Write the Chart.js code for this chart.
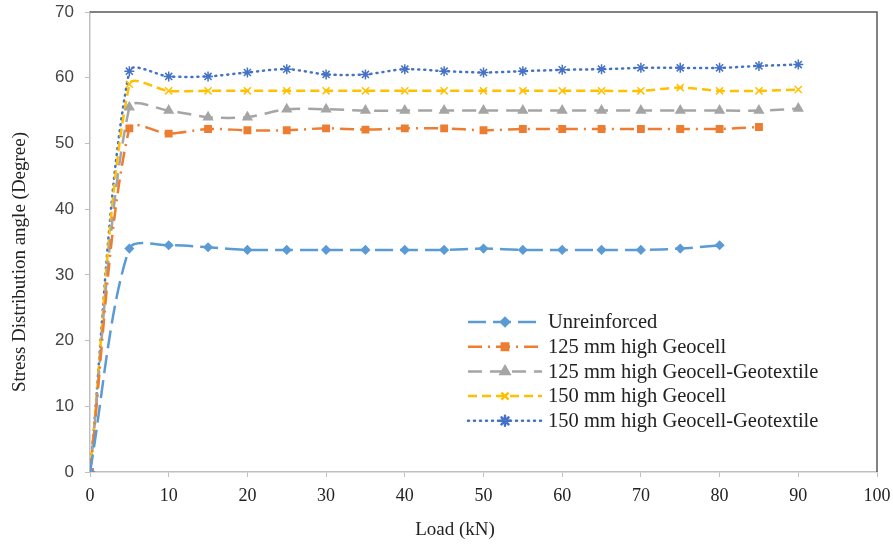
<!DOCTYPE html>
<html>
<head>
<meta charset="utf-8">
<script src="https://cdn.jsdelivr.net/npm/chart.js@4/dist/chart.umd.min.js"></script>
<style>
  body { margin: 0; background: #fff; }
  #wrap { width: 893px; height: 546px; }
</style>
</head>
<body>
<div id="wrap"><canvas id="chart"></canvas></div>
<script>
const LOADS = [0, 5, 10, 15, 20, 25, 30, 35, 40, 45, 50, 55, 60, 65, 70, 75, 80, 85, 90];
const X_TICKS = [0, 10, 20, 30, 40, 50, 60, 70, 80, 90, 100];

const UNREINFORCED = [0, 34, 34.5, 34.2, 33.8, 33.8, 33.8, 33.8, 33.8, 33.8, 34, 33.8, 33.8, 33.8, 33.8, 34, 34.5];
const GEOCELL_125 = [0, 52.3, 51.5, 52.2, 52, 52, 52.3, 52.1, 52.3, 52.3, 52, 52.2, 52.2, 52.2, 52.2, 52.2, 52.2, 52.5];
const GEOTEX_125 = [0, 55.5, 55, 54, 54, 55.2, 55.2, 55, 55, 55, 55, 55, 55, 55, 55, 55, 55, 55, 55.3];
const GEOCELL_150 = [0, 59, 58, 58, 58, 58, 58, 58, 58, 58, 58, 58, 58, 58, 58, 58.5, 58, 58, 58.2];
const GEOTEX_150 = [0, 61, 60.2, 60.2, 60.8, 61.3, 60.5, 60.5, 61.3, 61, 60.8, 61, 61.2, 61.3, 61.5, 61.5, 61.5, 61.8, 62];

const X_TITLE = "Load (kN)";
const Y_TITLE = "Stress Distribution angle (Degree)";

const SERIES = [
  { label: "Unreinforced", values: UNREINFORCED, color: "#5b9bd5", dash: [18, 7], point: "rectRot", radius: 4 },
  { label: "125 mm high Geocell", values: GEOCELL_125, color: "#ed7d31", dash: [14, 6, 2, 6], point: "rect", radius: 4.5 },
  { label: "125 mm high Geocell-Geotextile", values: GEOTEX_125, color: "#a5a5a5", dash: [14, 8], point: "triangle", radius: 5 },
  { label: "150 mm high Geocell", values: GEOCELL_150, color: "#ffc000", dash: [9, 5], point: "crossRot", radius: 5 },
  { label: "150 mm high Geocell-Geotextile", values: GEOTEX_150, color: "#4472c4", dash: [1, 5], point: "star", radius: 5 },
];

const SERIF = "'Liberation Serif', 'Times New Roman', serif";

const datasets = SERIES.map(s => ({
  label: s.label,
  data: s.values.map((v, i) => ({ x: LOADS[i], y: v })),
  borderColor: s.color,
  backgroundColor: s.color,
  borderWidth: 2.5,
  borderDash: s.dash,
  borderCapStyle: s.point === "star" ? "round" : "butt",
  pointStyle: s.point,
  pointRadius: s.radius,
  pointBorderWidth: 1.5,
  pointBorderColor: s.color,
  pointBackgroundColor: s.color,
  tension: 0.3,
}));

// frame on top and right, plus axis titles placed like the original
const framePlugin = {
  id: "frame",
  afterDraw(chart) {
    const { ctx, chartArea: a } = chart;
    ctx.save();
    ctx.strokeStyle = "#595959";
    ctx.lineWidth = 1.5;
    ctx.beginPath();
    ctx.moveTo(a.left, a.top);
    ctx.lineTo(a.right, a.top);
    ctx.lineTo(a.right, a.bottom);
    ctx.stroke();

    ctx.fillStyle = "#222";
    ctx.font = "19px " + SERIF;
    ctx.textAlign = "center";
    ctx.textBaseline = "middle";
    ctx.fillText(X_TITLE, 455, 530);
    ctx.translate(20, 262);
    ctx.rotate(-Math.PI / 2);
    ctx.fillText(Y_TITLE, 0, 0);
    ctx.restore();
  }
};

// legend inside the plot, line sample with marker like the original
const insideLegend = {
  id: "insideLegend",
  afterDraw(chart) {
    const { ctx } = chart;
    const x0 = 468, y0 = 322, step = 24.7, len = 74;
    ctx.save();
    chart.data.datasets.forEach((ds, i) => {
      const y = y0 + i * step;
      ctx.strokeStyle = ds.borderColor;
      ctx.lineWidth = 2.5;
      ctx.lineCap = ds.borderCapStyle;
      ctx.setLineDash(ds.borderDash);
      ctx.beginPath();
      ctx.moveTo(x0, y);
      ctx.lineTo(x0 + len, y);
      ctx.stroke();
      ctx.setLineDash([]);
      Chart.helpers.drawPoint(ctx, {
        pointStyle: ds.pointStyle, radius: ds.pointRadius, borderWidth: 1.5, rotation: 0
      }, x0 + len / 2, y);
      ctx.fillStyle = ds.pointBackgroundColor;
      ctx.fill();
      ctx.fillStyle = "#222";
      ctx.font = "20.5px " + SERIF;
      ctx.textBaseline = "middle";
      ctx.fillText(ds.label, x0 + len + 6, y + 1);
    });
    ctx.restore();
  }
};

new Chart(document.getElementById("chart"), {
  type: "line",
  data: { datasets },
  plugins: [framePlugin, insideLegend],
  options: {
    responsive: true,
    maintainAspectRatio: false,
    animation: false,
    layout: { padding: { top: 12, right: 16, left: 0, bottom: 0 } },
    plugins: { legend: { display: false }, tooltip: { enabled: false } },
    scales: {
      x: {
        type: "linear",
        min: 0, max: 100,
        afterBuildTicks: s => { s.ticks = X_TICKS.map(v => ({ value: v })); },
        afterFit: s => { s.height = 74; s.paddingLeft = 0; s.paddingRight = 0; },
        grid: { drawOnChartArea: false, drawTicks: true, tickLength: 5, color: "#bfbfbf" },
        border: { color: "#bfbfbf", width: 1.5 },
        ticks: { color: "#222", font: { family: SERIF, size: 18 }, padding: 8 },
      },
      y: {
        min: 0, max: 70,
        ticks: { stepSize: 10, color: "#444", font: { family: "'Liberation Sans', sans-serif", size: 17 }, padding: 11 },
        afterFit: s => { s.width = 90; s.paddingTop = 0; s.paddingBottom = 0; },
        grid: { drawOnChartArea: false, drawTicks: true, tickLength: 5, color: "#bfbfbf" },
        border: { color: "#bfbfbf", width: 1.5 },
      },
    },
  },
});
</script>
</body>
</html>
